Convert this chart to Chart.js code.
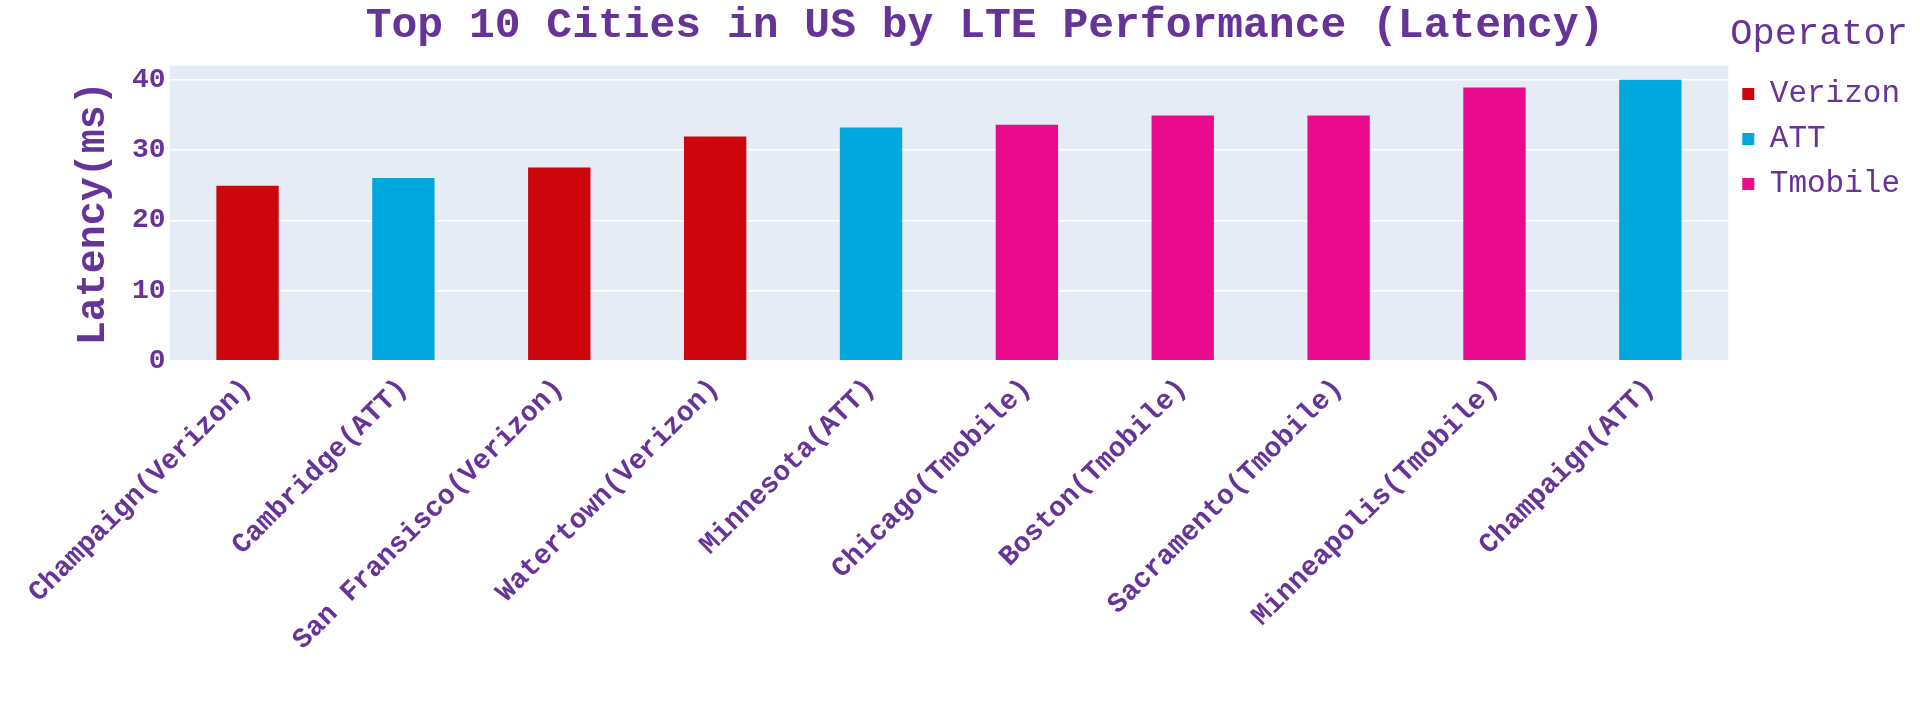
<!DOCTYPE html>
<html>
<head>
<script src="https://cdn.jsdelivr.net/npm/chart.js@4"></script>
<style>
  html, body { margin: 0; padding: 0; background: #fff; }
  #wrap { width: 1920px; height: 720px; }
</style>
</head>
<body>
<div id="wrap"><canvas id="chart1"></canvas></div>
<script>
const cities = ['Champaign(Verizon)', 'Cambridge(ATT)', 'San Fransisco(Verizon)', 'Watertown(Verizon)',
  'Minnesota(ATT)', 'Chicago(Tmobile)', 'Boston(Tmobile)', 'Sacramento(Tmobile)',
  'Minneapolis(Tmobile)', 'Champaign(ATT)'];
const operators = ['Verizon', 'ATT', 'Verizon', 'Verizon', 'ATT', 'Tmobile', 'Tmobile', 'Tmobile', 'Tmobile', 'ATT'];
const latency = [24.9, 26.0, 27.5, 31.9, 33.2, 33.6, 34.9, 34.9, 38.9, 40.0];
const operatorNames = ['Verizon', 'ATT', 'Tmobile'];
const yTicks = [0, 10, 20, 30, 40];

const colors = { 'Verizon': '#CC060C', 'ATT': '#00A8DE', 'Tmobile': '#EA0A8E' };
const purple = '#663399';
const mono = "'Liberation Mono', 'DejaVu Sans Mono', monospace";

const plotBg = {
  id: 'plotBg',
  beforeDraw(chart) {
    const a = chart.chartArea, c = chart.ctx;
    c.save();
    c.fillStyle = '#E5ECF6';
    c.fillRect(a.left, a.top, a.right - a.left, a.bottom - a.top);
    c.restore();
  }
};

new Chart(document.getElementById('chart1'), {
  type: 'bar',
  data: {
    labels: cities,
    datasets: [{
      data: latency,
      backgroundColor: operators.map(o => colors[o]),
      barPercentage: 0.4,
      categoryPercentage: 1
    }]
  },
  options: {
    responsive: true,
    maintainAspectRatio: false,
    animation: false,
    layout: { padding: { top: 0, right: 10, left: 60, bottom: 60 } },
    plugins: {
      title: {
        display: true,
        text: 'Top 10 Cities in US by LTE Performance (Latency)',
        color: purple,
        font: { family: mono, size: 43, weight: 'bold' },
        padding: { top: 0, bottom: 14 }
      },
      legend: {
        position: 'right',
        align: 'start',
        title: { display: true, text: 'Operator', color: purple, font: { family: mono, size: 37 }, padding: { top: 16, bottom: 4 } },
        labels: {
          color: purple,
          font: { family: mono, size: 31 },
          boxWidth: 12, boxHeight: 12,
          padding: 14,
          generateLabels: () => operatorNames.map(n => ({
            text: n, fillStyle: colors[n], strokeStyle: colors[n], lineWidth: 0, fontColor: purple
          }))
        },
        onClick: null
      },
      tooltip: { enabled: false }
    },
    scales: {
      x: {
        grid: { display: false },
        border: { display: false },
        ticks: {
          color: purple, maxRotation: 45, minRotation: 45, autoSkip: false,
          font: { family: mono, size: 28, weight: 'bold' }
        }
      },
      y: {
        min: 0, max: 42,
        afterBuildTicks: axis => { axis.ticks = yTicks.map(v => ({ value: v })); },
        grid: { color: '#ffffff', lineWidth: 1.5, drawTicks: false },
        border: { display: false },
        ticks: {
          color: purple, padding: 4, autoSkip: false,
          font: { family: mono, size: 28, weight: 'bold' }
        },
        title: {
          display: true, text: 'Latency(ms)', color: purple,
          font: { family: mono, size: 40, weight: 'bold' }, padding: 10
        }
      }
    }
  },
  plugins: [plotBg]
});
</script>
</body>
</html>
